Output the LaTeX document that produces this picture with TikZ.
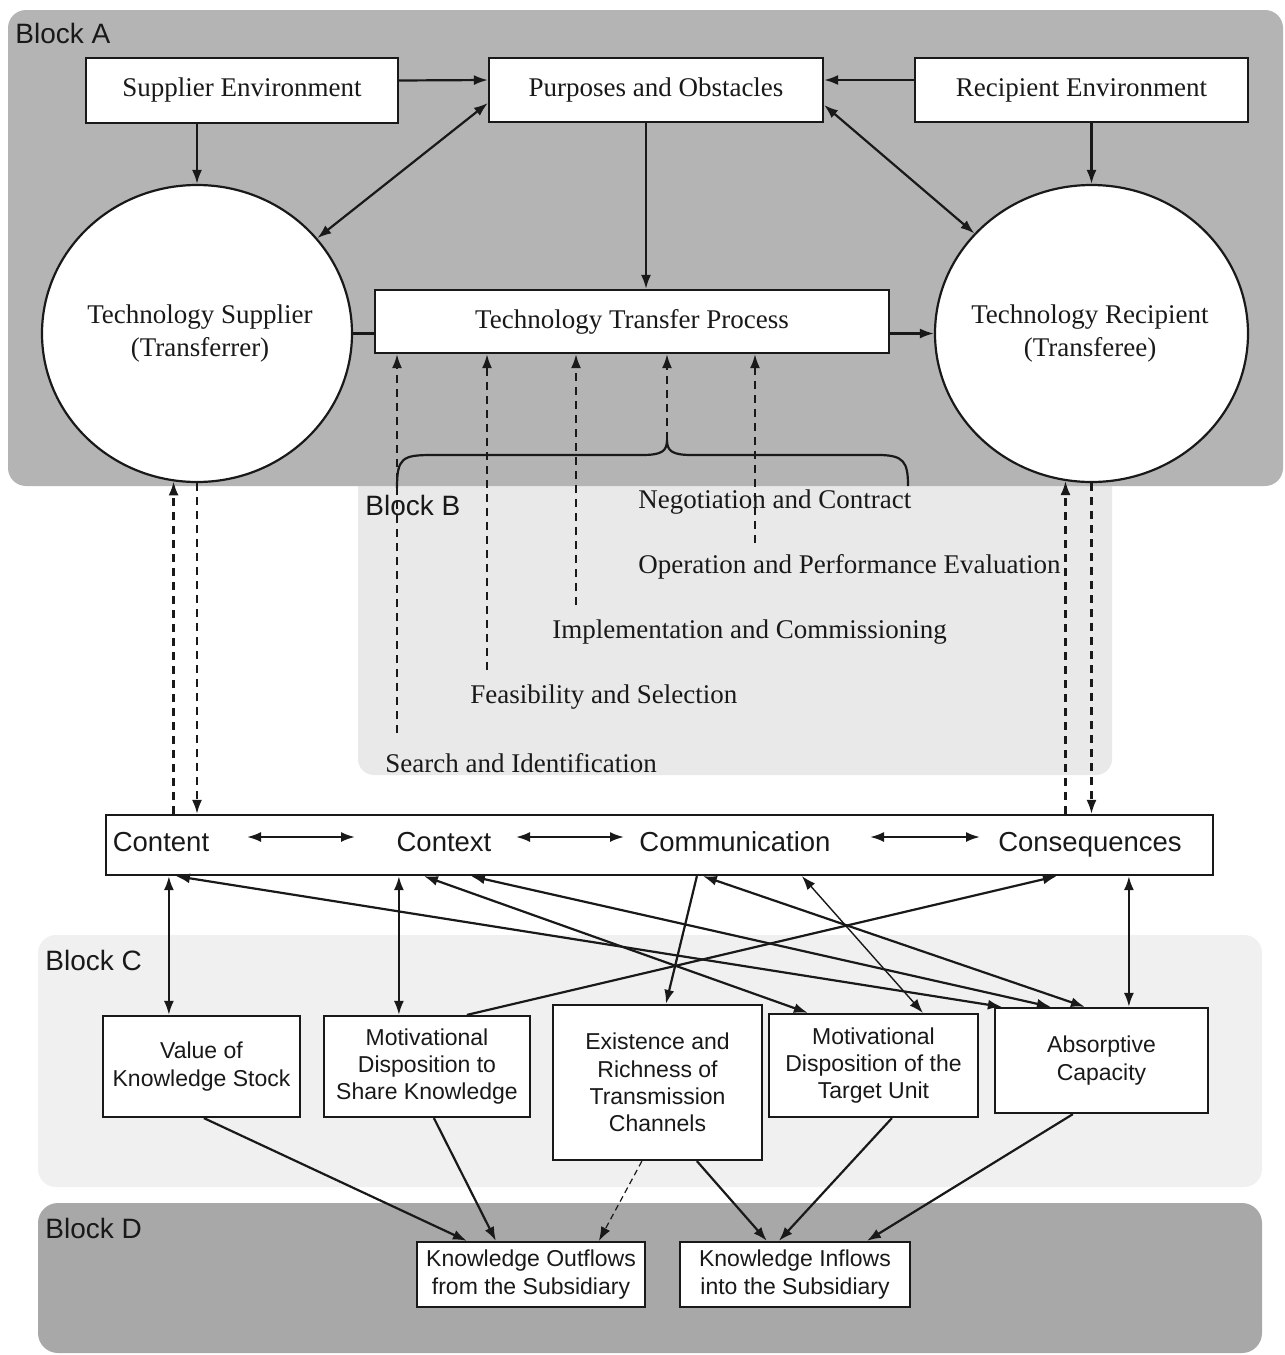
\documentclass[tikz,border=0pt]{standalone}
\usepackage{fontspec}
\setmainfont{Liberation Serif}
\setsansfont{Liberation Sans}
\usetikzlibrary{arrows.meta,calc,shapes.geometric}

\definecolor{blkA}{RGB}{180,180,180}
\definecolor{blkB}{RGB}{233,233,233}
\definecolor{blkC}{RGB}{240,240,240}
\definecolor{blkD}{RGB}{168,168,168}
\definecolor{ink}{RGB}{25,25,25}

\begin{document}
\begin{tikzpicture}[x=0.5pt,y=-0.5pt,
  ln/.style={draw=ink,line width=1.1pt},
  tip/.style={ln,-{Latex[length=7pt,width=5pt]}},
  dtip/.style={ln,{Latex[length=7pt,width=5pt]}-{Latex[length=7pt,width=5pt]}},
  dsh/.style={dash pattern=on 4pt off 3pt},
  box/.style={draw=ink,line width=1.1pt,fill=white,inner sep=0pt,align=center,text=ink},
  ell/.style={ellipse,draw=ink,line width=1.1pt,fill=white,inner sep=0pt},
  serif/.style={font=\fontsize{13.5pt}{16.5pt}\selectfont,text=ink,align=center},
  sansbig/.style={font=\sffamily\fontsize{13.75pt}{16pt}\selectfont,text=ink,inner sep=0pt,anchor=base},
  sansc/.style={font=\sffamily\fontsize{11.5pt}{13.6pt}\selectfont},
  blocklbl/.style={font=\sffamily\fontsize{14pt}{16pt}\selectfont,text=ink,anchor=west,inner sep=0pt},
  steplbl/.style={font=\fontsize{13.5pt}{16pt}\selectfont,text=ink,anchor=west,inner sep=0pt}
]
\useasboundingbox (0,0) rectangle (1285,1355);
\fill[white] (0,0) rectangle (1285,1355);

% block backgrounds
\fill[blkB,rounded corners=8pt] (358,470) rectangle (1112,775);
\fill[blkA,rounded corners=9pt] (8,10) rectangle (1283,486);
\fill[blkC,rounded corners=9pt] (38,935) rectangle (1262,1187);
\fill[blkD,rounded corners=10pt] (38,1203) rectangle (1262,1353);

\node[blocklbl] (la) at (15,33) {Block A};
\node[blocklbl] (lb) at (365,505) {Block B};
\node[blocklbl] (lcc) at (45,960) {Block C};
\node[blocklbl] (ld) at (45,1228) {Block D};

% Block A
\node[box,serif,minimum width=156pt,minimum height=32.5pt] (se) at (242,90.5) {Supplier Environment};
\node[box,serif,minimum width=167pt,minimum height=32pt] (po) at (656,90) {Purposes and Obstacles};
\node[box,serif,minimum width=166.5pt,minimum height=32pt] (re) at (1081.5,90) {Recipient Environment};
\node[box,serif,minimum width=257pt,minimum height=31.5pt] (ttp) at (632,321.5) {Technology Transfer Process};
\node[ell,minimum width=155pt,minimum height=148.5pt] (lc) at (197,333.5) {};
\node[ell,minimum width=156.5pt,minimum height=148.5pt] (rc) at (1091.5,333.5) {};
\node[serif] (lct) at (200,333.5) {Technology Supplier\\(Transferrer)};
\node[serif] (rct) at (1090,333.5) {Technology Recipient\\(Transferee)};

\draw[tip] ([yshift=5pt]se.east) -- ([yshift=5pt]po.west);
\draw[tip] ([yshift=5pt]re.west) -- ([yshift=5pt]po.east);
\draw[dtip] (lc) -- ([yshift=-6.5pt]po.west);
\draw[dtip] ([yshift=-7.5pt]po.east) -- (rc);
\draw[tip] (lc.north |- se.south) -- (lc.north);
\draw[tip] (rc.north |- re.south) -- (rc.north);
\draw[tip] ([xshift=-5pt]po.south) -- ([xshift=-5pt]po.south |- ttp.north);
\draw[ln] (lc.east) -- (lc.east -| ttp.west);
\draw[tip] (ttp.east |- rc.west) -- (rc.west);

% Block B: stages of the transfer process
\node[steplbl] (s5) at (638,502) {Negotiation and Contract};
\node[steplbl] (s4) at (638,567) {Operation and Performance Evaluation};
\node[steplbl] (s3) at (552,632) {Implementation and Commissioning};
\node[steplbl] (s2) at (470,697) {Feasibility and Selection};
\node[steplbl] (s1) at (385,763) {Search and Identification};

\coordinate (e1) at (397,733);
\coordinate (e2) at (487,670);
\coordinate (e3) at (576,605);
\coordinate (e4) at (755,543);
\coordinate (btip) at (667,440);
\draw[tip,dsh] (e1) -- (e1 |- ttp.south);
\draw[tip,dsh] (e2) -- (e2 |- ttp.south);
\draw[tip,dsh] (e3) -- (e3 |- ttp.south);
\draw[tip,dsh] (e4) -- (e4 |- ttp.south);
\draw[tip,dsh] (btip) -- (btip |- ttp.south);

% brace gathering the stages
\draw[ln] (397,488) .. controls (397,458) and (402,455) .. (432,455)
  -- (642,455) .. controls (662,455) and (667,451) .. (btip)
  .. controls (667,451) and (672,455) .. (692,455)
  -- (878,455) .. controls (904,455) and (908,462) .. (908,486);

% the four C's
\node[box,minimum width=553.5pt,minimum height=30pt] (fc) at (659.5,845) {};
\node[sansbig] (tcont) at (161,851) {Content};
\node[sansbig] (tctx) at (444,851) {Context};
\node[sansbig] (tcom) at (735,851) {Communication};
\node[sansbig] (tcons) at (1090,851) {Consequences};
\coordinate (r1) at (247,837);
\coordinate (r2) at (355,837);
\coordinate (r3) at (516,837);
\coordinate (r4) at (624,837);
\coordinate (r5) at (870,837);
\coordinate (r6) at (980,837);
\draw[dtip] (r1) -- (r2);
\draw[dtip] (r3) -- (r4);
\draw[dtip] (r5) -- (r6);

% links between the circles and the four C's
\draw[tip,dsh] (lc.261.5 |- fc.north) -- (lc.261.5);
\draw[tip,dsh] (lc.south) -- (lc.south |- fc.north);
\draw[tip,dsh] (rc.260.5 |- fc.north) -- (rc.260.5);
\draw[tip,dsh] (rc.south) -- (rc.south |- fc.north);

% Block C
\node[box,sansc,minimum width=98.5pt,minimum height=50.5pt] (value) at (201.5,1066.5) {Value of\\Knowledge Stock};
\node[box,sansc,minimum width=103pt,minimum height=50.5pt] (share) at (427,1066.5) {Motivational\\Disposition to\\Share Knowledge};
\node[box,sansc,minimum width=104.5pt,minimum height=77.5pt] (exist) at (657.5,1082.5) {Existence and\\Richness of\\Transmission\\Channels};
\node[box,sansc,minimum width=104.5pt,minimum height=51.5pt] (target) at (873.5,1065.5) {Motivational\\Disposition of the\\Target Unit};
\node[box,sansc,minimum width=106.5pt,minimum height=52.5pt] (absorb) at (1101.5,1060.5) {Absorptive\\Capacity};

\draw[dtip] ($(fc.south west)+(64,0)$) -- ($(value.north west)+(67,0)$);
\draw[dtip] ($(fc.south west)+(294,0)$) -- ($(share.north west)+(76,0)$);
\draw[dtip] ($(fc.south west)+(1024,0)$) -- ($(absorb.north west)+(135,0)$);
\draw[dtip] ($(fc.south west)+(71,0)$) -- ($(absorb.north west)+(8,0)$);
\draw[dtip] ($(fc.south west)+(319,0)$) -- ($(target.north west)+(40,0)$);
\draw[dtip] ($(fc.south west)+(366,0)$) -- ($(absorb.north west)+(57,0)$);
\draw[dtip] ($(fc.south west)+(598,0)$) -- ($(absorb.north west)+(91,0)$);
\draw[dtip,line width=0.7pt] ($(fc.south west)+(697,0)$) -- ($(target.north west)+(155,0)$);
\draw[tip] ($(fc.south west)+(592,0)$) -- ($(exist.north west)+(114,0)$);
\draw[tip] ($(share.north west)+(144,0)$) -- ($(fc.south west)+(952,0)$);

% Block D
\node[box,sansc,minimum width=114pt,minimum height=32.5pt] (outf) at (531,1274.5) {Knowledge Outflows\\from the Subsidiary};
\node[box,sansc,minimum width=115pt,minimum height=32.5pt] (inf) at (795,1274.5) {Knowledge Inflows\\into the Subsidiary};

\draw[tip] ($(value.south west)+(102,0)$) -- ($(outf.north west)+(51,0)$);
\draw[tip] ($(share.south west)+(111,0)$) -- ($(outf.north west)+(80,0)$);
\draw[tip,densely dashed,line width=0.6pt] ($(exist.south west)+(90,0)$) -- ($(outf.north west)+(183,0)$);
\draw[tip] ($(exist.south west)+(145,0)$) -- ($(inf.north west)+(88,0)$);
\draw[tip] ($(target.south west)+(124,0)$) -- ($(inf.north west)+(100,0)$);
\draw[tip] ($(absorb.south west)+(79,0)$) -- ($(inf.north west)+(188,0)$);
\end{tikzpicture}
\end{document}
